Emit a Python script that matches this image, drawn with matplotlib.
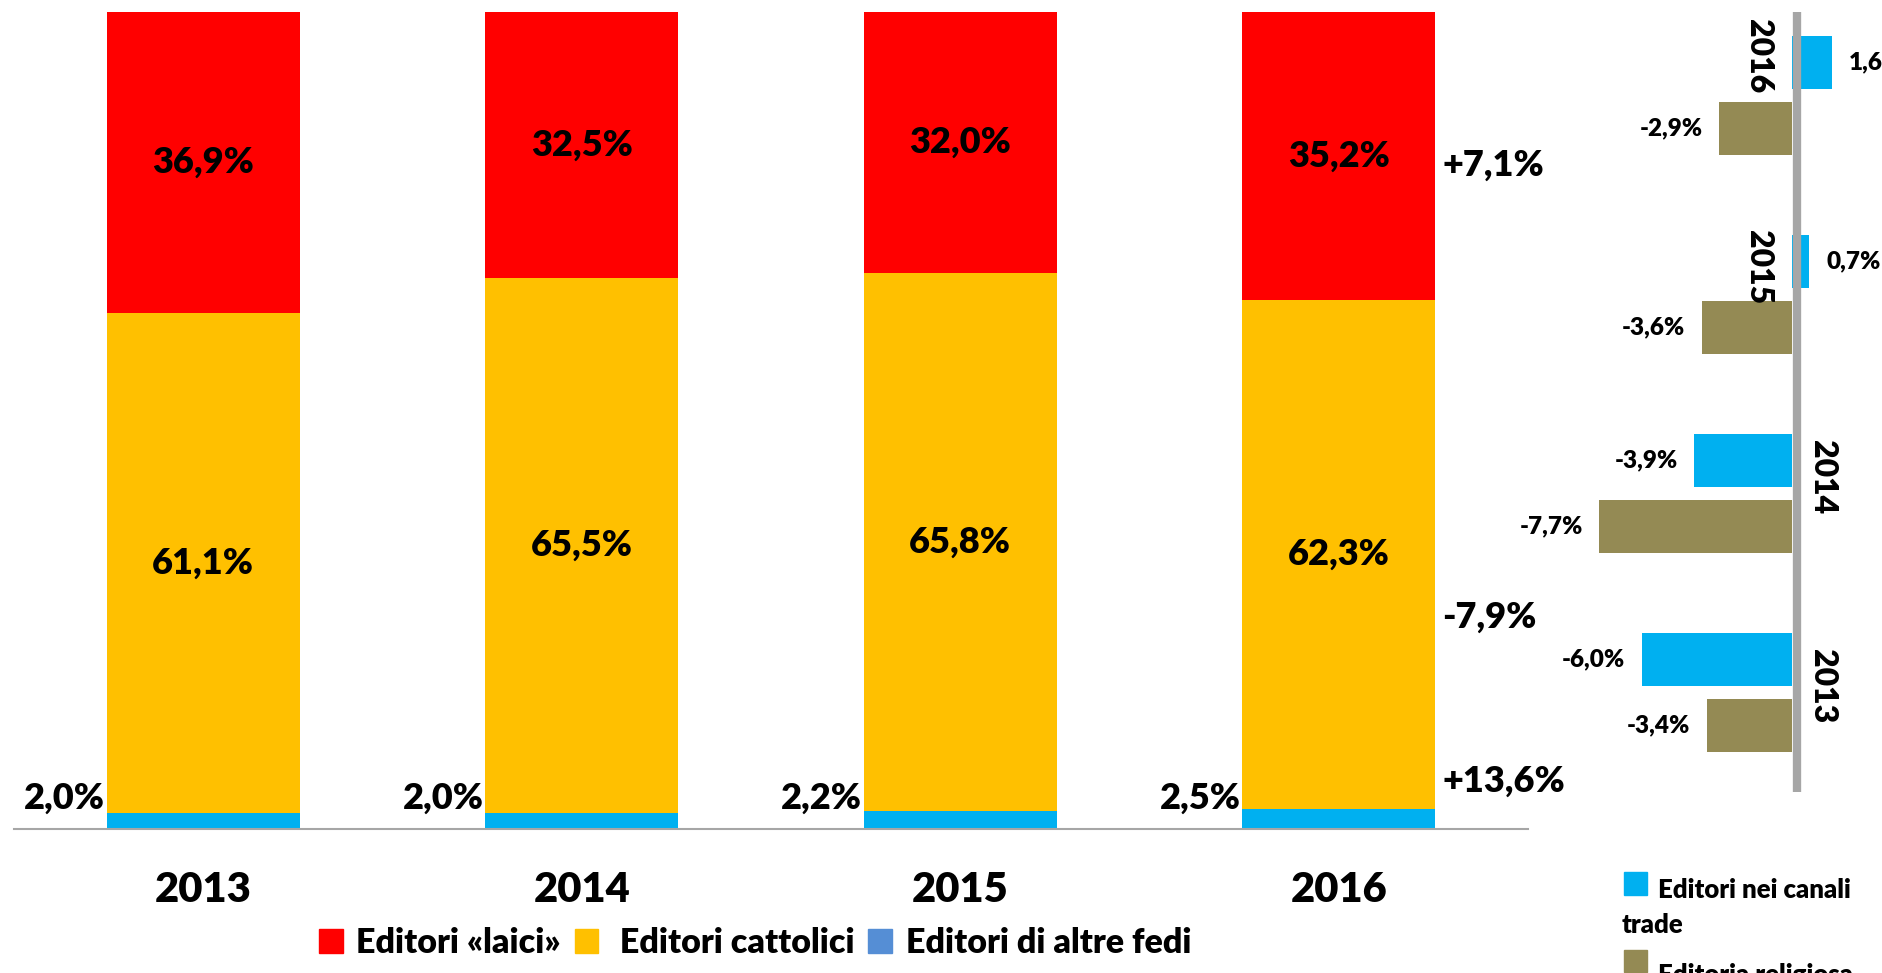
import matplotlib
matplotlib.use("Agg")
import matplotlib.pyplot as plt
from matplotlib.patches import Patch, Rectangle
import matplotlib.transforms as mtransforms

plt.rcParams['font.family'] = ['Lato', 'DejaVu Sans']
plt.rcParams['font.weight'] = 'heavy'

# stacked shares (percent)
years = ['2013', '2014', '2015', '2016']
laici = [36.9, 32.5, 32.0, 35.2]
cattolici = [61.1, 65.5, 65.8, 62.3]
altre_fedi = [2.0, 2.0, 2.2, 2.5]
growth_labels = ['+7,1%', '-7,9%', '+13,6%']
growth_y = [81.3, 25.9, 5.9]

# right panel: yearly change
trade = [-6.0, -3.9, 0.7, 1.6]
religiosa = [-3.4, -7.7, -3.6, -2.9]

RED = '#FF0000'
YELLOW = '#FFC000'
CYAN = '#00B0F0'
STEEL = '#558ED5'
OLIVE = '#948A54'
GRAY = '#A6A6A6'

W, H = 1883, 973
fig = plt.figure(figsize=(W / 100, H / 100), dpi=100)


def fx(px):
    return px / W


def fy(py):
    return 1 - py / H


# ---- main stacked chart ----
ax = fig.add_axes([fx(14), fy(829), fx(1528) - fx(14), fy(12) - fy(829)])
x = list(range(len(years)))
bw = 0.51
ax.bar(x, altre_fedi, width=bw, color=CYAN)
bottom2 = altre_fedi
ax.bar(x, cattolici, width=bw, bottom=bottom2, color=YELLOW)
bottom3 = [a + b for a, b in zip(altre_fedi, cattolici)]
ax.bar(x, laici, width=bw, bottom=bottom3, color=RED)

for i in x:
    ax.text(i, altre_fedi[i] + cattolici[i] / 2, f'{cattolici[i]:.1f}%'.replace('.', ','),
            ha='center', va='center', fontsize=26)
    ax.text(i, bottom3[i] + laici[i] / 2, f'{laici[i]:.1f}%'.replace('.', ','),
            ha='center', va='center', fontsize=26)
    ax.annotate(f'{altre_fedi[i]:.1f}%'.replace('.', ','), (i - bw / 2, 0),
                xytext=(-1, 22), textcoords='offset points',
                ha='right', va='center', fontsize=26)

for lab, gy in zip(growth_labels, growth_y):
    ax.annotate(lab, (x[-1] + bw / 2, gy), xytext=(5, 0), textcoords='offset points',
                ha='left', va='center', fontsize=26)

ax.set_xlim(-0.5, 3.5)
ax.set_ylim(0, 100)
ax.set_yticks([])
ax.set_xticks(x)
ax.set_xticklabels(years, fontsize=30)
ax.tick_params(axis='x', length=0, pad=30)
for s in ['left', 'right', 'top']:
    ax.spines[s].set_visible(False)
ax.spines['bottom'].set_color(GRAY)
ax.spines['bottom'].set_linewidth(1.5)

handles = [Patch(color=RED), Patch(color=YELLOW), Patch(color=STEEL)]
fig.legend(handles, ['Editori «laici»', ' Editori cattolici', 'Editori di altre fedi'],
           loc='center', bbox_to_anchor=(fx(755), fy(943)), ncol=3, frameon=False,
           fontsize=24.5, handlelength=0.7, handleheight=0.7, handletextpad=0.4,
           columnspacing=0.4, borderpad=0)

# ---- right panel: horizontal bars ----
ax2 = fig.add_axes([fx(1540), fy(792), fx(1883) - fx(1540), fy(12) - fy(792)])
pos = list(range(len(years)))
bh = 0.266
ax2.barh([p + 0.166 for p in pos], trade, height=bh, color=CYAN)
ax2.barh([p - 0.166 for p in pos], religiosa, height=bh, color=OLIVE)
shift = mtransforms.ScaledTranslation(5 / 100, 0, fig.dpi_scale_trans)
ax2.plot([0, 0], [0, 1], color=GRAY, linewidth=6, solid_capstyle='butt',
         transform=ax2.get_xaxis_transform() + shift)

for p, v in zip(pos, trade):
    ax2.annotate(f'{v:.1f}%'.replace('.', ','), (v, p + 0.166),
                 xytext=(12 if v > 0 else -12, 0), textcoords='offset points',
                 ha='left' if v > 0 else 'right', va='center', fontsize=17.5)
for p, v in zip(pos, religiosa):
    ax2.annotate(f'{v:.1f}%'.replace('.', ','), (v, p - 0.166),
                 xytext=(-12, 0), textcoords='offset points',
                 ha='right', va='center', fontsize=17.5)

year_off = [0.03, 0.08, 0.14, 0.20]
for p, yr, off, v in zip(pos, years, year_off, trade):
    ax2.annotate(yr, (0, p + off), xytext=(-24 if v > 0 else 22, 0),
                 textcoords='offset points', rotation=270,
                 ha='center', va='center', fontsize=23)

ax2.set_xlim((1540 - 1792) / 25, (1883 - 1792) / 25)
ax2.set_ylim(-0.5, 3.42)
ax2.axis('off')

# right legend
fig.patches.append(Rectangle((fx(1624), fy(895)), fx(23), 23 / H, color=CYAN,
                             transform=fig.transFigure, figure=fig))
fig.text(fx(1658), fy(898), 'Editori nei canali', fontsize=18.5, va='baseline')
fig.text(fx(1622), fy(933), 'trade', fontsize=18.5, va='baseline')
fig.patches.append(Rectangle((fx(1624), fy(972)), fx(23), 22 / H, color=OLIVE,
                             transform=fig.transFigure, figure=fig))
fig.text(fx(1658), fy(983), 'Editoria religiosa', fontsize=18.5, va='baseline')

fig.savefig('out.png', dpi=100)
